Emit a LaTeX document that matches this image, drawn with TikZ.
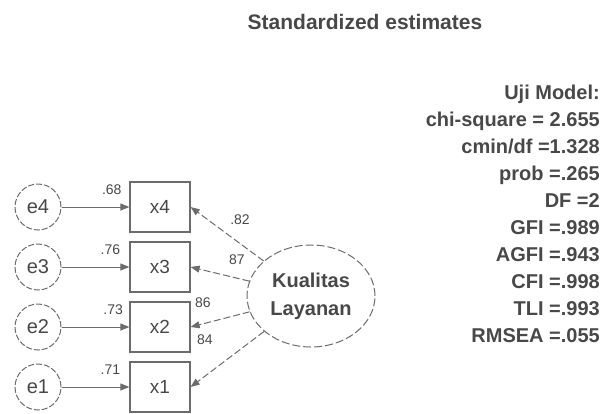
\documentclass[tikz,border=0pt]{standalone}
\usepackage{fontspec}
\setmainfont{Liberation Sans}
\usetikzlibrary{arrows.meta,shapes.geometric}
\definecolor{ink}{HTML}{484848}
\definecolor{edge}{HTML}{6C6C6C}
\tikzset{
  errc/.style={circle, draw=edge, line width=1pt, dash pattern=on 6pt off 2pt, minimum size=46pt, inner sep=0pt, text=ink, font=\fontsize{20}{20}\selectfont},
  obs/.style={rectangle, draw=edge, line width=1.2pt, minimum width=60pt, minimum height=50pt, inner sep=0pt, text=ink, font=\fontsize{19}{19}\selectfont},
  lat/.style={ellipse, draw=edge, line width=1pt, dash pattern=on 8pt off 3pt, minimum width=128pt, minimum height=102pt, inner sep=0pt, text=ink, align=center, font=\bfseries\fontsize{20}{28}\selectfont},
  earrow/.style={edge, line width=1pt, -{Triangle[length=9pt,width=7pt]}},
  larrow/.style={edge, line width=1pt, dash pattern=on 7pt off 3pt, -{Triangle[length=9pt,width=7pt]}},
  coef/.style={text=ink, inner sep=0pt, font=\fontsize{14}{14}\selectfont},
  ttl/.style={text=ink, inner sep=0pt, font=\bfseries\fontsize{21}{21}\selectfont},
  fitline/.style={text=ink, inner sep=0pt, anchor=base east, font=\bfseries\fontsize{20}{20}\selectfont},
}
\begin{document}
\begin{tikzpicture}[x=1pt, y=-1pt]
  \useasboundingbox (0,0) rectangle (611,413);

  % --- title ---
  \node[ttl] (title) at (365,22) {Standardized estimates};

  % --- indicators and their errors ---
  \foreach \k/\yy in {4/207, 3/267, 2/327, 1/387} {
    \node[obs] (x\k) at (160,\yy) {x\k};
    \node[errc] (e\k) at (38,\yy) {e\k};
  }
  \draw[earrow] (e4) -- (x4) node[coef, pos=0.74, above=12pt] (r4) {.68};
  \draw[earrow] (e3) -- (x3) node[coef, pos=0.72, above=12pt] (r3) {.76};
  \draw[earrow] (e2) -- (x2) node[coef, pos=0.76, above=12pt] (r2) {.73};
  \draw[earrow] (e1) -- (x1) node[coef, pos=0.72, above=12pt] (r1) {.71};

  % --- latent variable ---
  \node[lat] (kl) at (311,296) {Kualitas\\Layanan};
  \foreach \k in {4,3,2,1}
    \draw[larrow] (kl) -- (x\k.east);
  \node[coef] (l4) at (240,220) {.82};
  \node[coef] (l3) at (237,260) {87};
  \node[coef] (l2) at (203,303) {86};
  \node[coef] (l1) at (205,340) {84};

  % --- model fit ---
  \foreach \t [count=\i from 0] in {Uji Model:, chi-square = 2.655, cmin/df =1.328,
      prob =.265, DF =2, GFI =.989, AGFI =.943, CFI =.998, TLI =.993, RMSEA =.055}
    \node[fitline] (s\i) at (600,99+27*\i) {\t};
\end{tikzpicture}
\end{document}
